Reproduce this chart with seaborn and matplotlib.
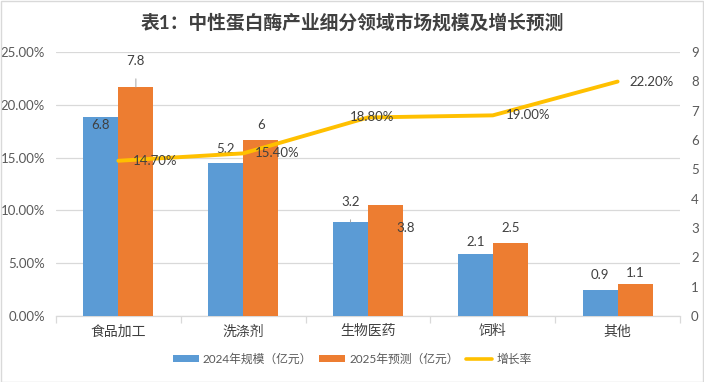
import matplotlib
matplotlib.use("Agg")
import matplotlib.pyplot as plt
from matplotlib.patches import Patch, Rectangle
from matplotlib.lines import Line2D
from matplotlib.ticker import FixedLocator, FuncFormatter, MultipleLocator
import seaborn as sns
import pandas as pd

sns.set_theme(style="white")
plt.rcParams['font.family'] = ['Lato', 'Noto Sans CJK SC', 'DejaVu Sans']

# ---------------- data ----------------
title = "表1：中性蛋白酶产业细分领域市场规模及增长预测"
categories = ["食品加工", "洗涤剂", "生物医药", "饲料", "其他"]
series_names = ["2024年规模（亿元）", "2025年预测（亿元）"]
size_2024 = [6.8, 5.2, 3.2, 2.1, 0.9]
size_2025 = [7.8, 6.0, 3.8, 2.5, 1.1]
growth_name = "增长率"
growth_rate = [14.7, 15.4, 18.8, 19.0, 22.2]

# ---------------- styles ----------------
BLUE = "#5B9BD5"
ORANGE = "#ED7D31"
GOLD = "#FFC000"
TXT = "#595959"
LBL = "#404040"
GRID = "#D9D9D9"

df = pd.DataFrame({
    "cat": categories * 2,
    "series": [series_names[0]] * len(categories) + [series_names[1]] * len(categories),
    "val": size_2024 + size_2025,
})
df_line = pd.DataFrame({"cat": categories, "rate": growth_rate})

W, H = 704, 382
fig = plt.figure(figsize=(W / 100, H / 100), dpi=100)
fig.patch.set_facecolor("white")

left, right, top, bottom = 56, 680, 52, 316
rect = [left / W, 1 - bottom / H, (right - left) / W, (bottom - top) / H]

# background axis: percent scale + grid
ax = fig.add_axes(rect)
ax.set_ylim(0, 25)
ax.set_xlim(-0.5, len(categories) - 0.5)
ax.yaxis.set_major_locator(MultipleLocator(5))
ax.yaxis.set_major_formatter(FuncFormatter(lambda v, p: f"{v:.2f}%"))
ax.grid(axis="y", color=GRID, lw=0.9)
ax.grid(axis="x", visible=False)
for s in ["top", "right", "left"]:
    ax.spines[s].set_visible(False)
ax.spines["bottom"].set_color(GRID)
ax.spines["bottom"].set_linewidth(0.9)
ax.tick_params(axis="y", length=0, labelsize=9.5, labelcolor=TXT, pad=8)
ax.set_xticks(range(len(categories)))
ax.set_xticklabels(categories, fontsize=10, color=LBL)
ax.tick_params(axis="x", which="major", length=0, pad=6)
ax.xaxis.set_minor_locator(FixedLocator([i - 0.5 for i in range(len(categories) + 1)]))
ax.tick_params(axis="x", which="minor", length=5, color=GRID, width=0.9, bottom=True)

# bars on right scale
ax2 = ax.twinx()
sns.barplot(data=df, x="cat", y="val", hue="series", order=categories,
            hue_order=series_names, palette=[BLUE, ORANGE], width=0.56,
            gap=0, saturation=1, legend=False, ax=ax2, edgecolor="none")
ax2.set_ylim(0, 9)
ax2.set_xlim(-0.5, len(categories) - 0.5)
ax2.yaxis.set_major_locator(MultipleLocator(1))
ax2.set_ylabel("")
ax2.set_xlabel("")
for s in ax2.spines.values():
    s.set_visible(False)
ax2.grid(False)
ax2.tick_params(axis="y", length=0, labelsize=9.5, labelcolor=TXT, pad=8)

# bar labels (offsets in pixels: dx, dy, leader)
bar_offsets = [
    [(0, -8, False), (0, 14, False), (0, 20, True), (0, 12, False), (0, 15, False)],
    [(0, 26, True), (0, 15, False), (20, -23, False), (0, 15, False), (0, 11, False)],
]
for si, (cont, vals) in enumerate(zip(ax2.containers, [size_2024, size_2025])):
    for bi, (bar, v) in enumerate(zip(cont, vals)):
        dx, dy, leader = bar_offsets[si][bi]
        x = bar.get_x() + bar.get_width() / 2
        y = bar.get_height()
        txt = f"{v:g}"
        kw = dict(arrowprops=dict(arrowstyle="-", color="#A6A6A6", lw=0.7,
                                  shrinkA=6, shrinkB=0)) if leader else {}
        ax2.annotate(txt, xy=(x, y), xytext=(dx, dy), textcoords="offset pixels",
                     ha="center", va="center", fontsize=9.5, color=LBL, **kw)

# line on percent scale (top layer)
ax3 = ax.twinx()
ax3.set_ylim(0, 25)
sns.lineplot(data=df_line, x="cat", y="rate", color=GOLD, lw=2.8, ax=ax3,
             sort=False)
ax3.set_xlim(-0.5, len(categories) - 0.5)
ax3.set_ylabel("")
ax3.set_xlabel("")
ax3.set_yticks([])
ax3.grid(False)
for s in ax3.spines.values():
    s.set_visible(False)
ax3.patch.set_visible(False)

line_offsets = [(14, 0, "left"), (12, 0, "left"), (4, 0, "center"),
                (13, 0, "left"), (12, 0, "left")]
for i, v in enumerate(growth_rate):
    dx, dy, ha = line_offsets[i]
    ax3.annotate(f"{v:.2f}%", xy=(i, v), xytext=(dx, dy), textcoords="offset pixels",
                 ha=ha, va="center", fontsize=9.5, color=LBL)

# title
fig.text(0.5, 1 - 22 / H, title, ha="center", va="center", fontsize=13.5,
         fontweight="bold", color="#404040")

# legend
handles = [Patch(facecolor=BLUE, edgecolor="none"),
           Patch(facecolor=ORANGE, edgecolor="none"),
           Line2D([0], [0], color=GOLD, lw=2.6)]
labels = series_names + [growth_name]
fig.legend(handles, labels, loc="center", bbox_to_anchor=(0.5, 1 - 359 / H),
           ncol=3, frameon=False, fontsize=8.5, handlelength=2.2, handleheight=0.5,
           handletextpad=0.35, columnspacing=0.6, labelcolor=TXT)

# outer frame
fig.add_artist(Rectangle((0.001, 0.001), 0.997, 0.997, transform=fig.transFigure,
                         fill=False, edgecolor="#D9D9D9", lw=1))

fig.savefig("out.png", dpi=100, facecolor="white")
